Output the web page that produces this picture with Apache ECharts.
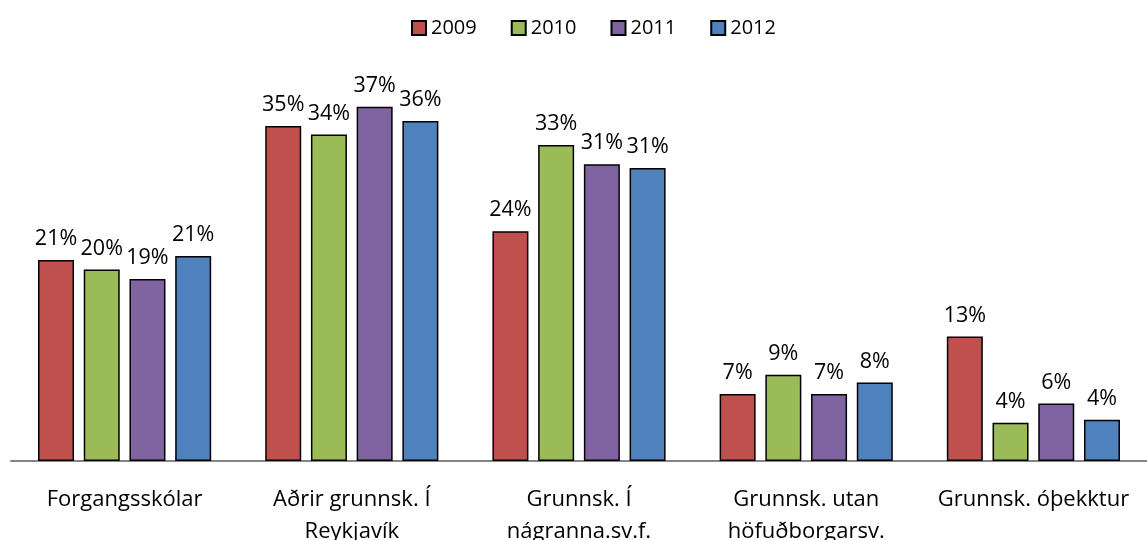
<!DOCTYPE html>
<html>
<head>
<meta charset="utf-8">
<script src="https://cdn.jsdelivr.net/npm/echarts@6/dist/echarts.min.js"></script>
<style>
  html, body { margin: 0; padding: 0; background: #fff; }
  #chart { width: 1147px; height: 540px; }
</style>
</head>
<body>
<div id="chart"></div>
<script>
// categories and values (percent)
const categories = [
  "Forgangsskólar",
  "Aðrir grunnsk. Í\nReykjavík",
  "Grunnsk. Í\nnágranna.sv.f.",
  "Grunnsk. utan\nhöfuðborgarsv.",
  "Grunnsk. óþekktur"
];
const years = ["2009", "2010", "2011", "2012"];
const v2009 = [21.0, 35.0, 24.0, 7.0, 13.0];
const v2010 = [20.0, 34.1, 33.0, 9.0, 4.0];
const v2011 = [19.0, 37.0, 31.0, 7.0, 6.0];
const v2012 = [21.4, 35.5, 30.6, 8.2, 4.3];
const colors = ["#C0504D", "#9BBB59", "#8064A2", "#4F81BD"];

const font = "'Open Sans', 'Noto Sans', sans-serif";
const seriesData = [v2009, v2010, v2011, v2012];

const chart = echarts.init(document.getElementById("chart"));
chart.setOption({
  animation: false,
  textStyle: { fontFamily: font },
  legend: {
    top: 13,
    left: 406,
    itemWidth: 14,
    itemHeight: 14,
    itemGap: 34,
    icon: "rect",
    textStyle: { fontSize: 20, color: "#000", fontFamily: font },
    data: years
  },
  grid: { left: 11, right: 0, top: 78, bottom: 79, outerBoundsMode: "none", containLabel: false },
  xAxis: {
    type: "category",
    data: categories,
    axisLine: { show: true, lineStyle: { color: "#868686", width: 2 } },
    axisTick: { show: false },
    axisLabel: {
      color: "#000",
      fontSize: 22,
      lineHeight: 32,
      margin: 23,
      interval: 0,
      fontFamily: font
    }
  },
  yAxis: {
    type: "value",
    min: 0,
    max: 40,
    show: false,
    splitLine: { show: false }
  },
  series: years.map((y, i) => ({
    name: y,
    type: "bar",
    data: seriesData[i],
    barWidth: 36,
    barGap: "27%",
    itemStyle: { color: colors[i], borderColor: "#000", borderWidth: 1.5 },
    label: {
      show: true,
      position: "top",
      distance: 10,
      color: "#000",
      fontSize: 21.5,
      fontFamily: font,
      formatter: p => Math.round(p.value) + "%"
    }
  }))
});
</script>
</body>
</html>
